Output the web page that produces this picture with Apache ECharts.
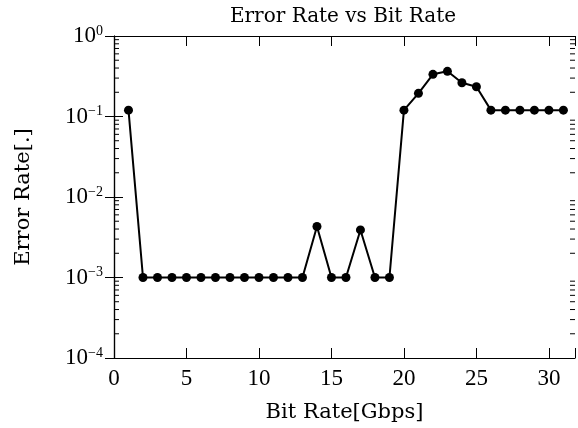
<!DOCTYPE html>
<html><head><meta charset="utf-8">
<script src="https://cdn.jsdelivr.net/npm/echarts@6/dist/echarts.min.js"></script>
<style>html,body{margin:0;padding:0;background:#fff}#c{width:578px;height:428px}</style>
</head><body><div id="c"></div>
<script>
const bitRates = [1,2,3,4,5,6,7,8,9,10,11,12,13,14,15,16,17,18,19,20,21,22,23,24,25,26,27,28,29,30,31];
const errorRates = [0.12,0.001,0.001,0.001,0.001,0.001,0.001,0.001,0.001,0.001,0.001,0.001,0.001,0.0043,0.001,0.001,0.0039,0.001,0.001,0.12,0.194,0.334,0.364,0.263,0.234,0.12,0.12,0.12,0.12,0.12,0.12];
const xMin = 0, xMax = 31.8, xStep = 5;
const yMin = 1e-4, yMax = 1;
const minorTickValues = [];
[-4,-3,-2,-1].forEach(function(k){ for (let m = 2; m <= 9; m++) minorTickValues.push(m * Math.pow(10, k)); });

const TFONT = 'Liberation Serif';
const NFONT = 'DejaVu Serif';
const chart = echarts.init(document.getElementById('c'), null, {renderer: 'canvas'});
const axisLineStyle = {color: '#000', width: 1.2};
chart.setOption({
  animation: false,
  title: {text: 'Error Rate vs Bit Rate', left: 338, textAlign: 'center', top: 2,
    textStyle: {fontFamily: NFONT, fontWeight: 'normal', fontSize: 20, color: '#000'}},
  grid: {left: 114, right: 3, top: 36, bottom: 70, containLabel: false},
  xAxis: [{
    type: 'value', min: xMin, max: xMax, interval: xStep,
    name: 'Bit Rate[Gbps]', nameLocation: 'middle', nameGap: 44,
    nameTextStyle: {fontFamily: NFONT, fontSize: 21, color: '#000'},
    axisLine: {show: true, lineStyle: axisLineStyle},
    axisTick: {show: true, inside: true, length: 10, lineStyle: {color: '#000', width: 1}},
    axisLabel: {fontFamily: TFONT, fontSize: 23, color: '#000', margin: 9,
      formatter: function(v){ return (v % xStep === 0) ? String(v) : ''; }},
    splitLine: {show: false}
  },{
    type: 'value', position: 'top', min: xMin, max: xMax, interval: xStep,
    axisLine: {show: true, lineStyle: axisLineStyle},
    axisTick: {show: true, inside: true, length: 10, lineStyle: {color: '#000', width: 1}},
    axisLabel: {show: false}, splitLine: {show: false}
  }],
  yAxis: [{
    type: 'log', logBase: 10, min: yMin, max: yMax,
    name: 'Error Rate[.]', nameLocation: 'middle', nameGap: 80, nameRotate: 90,
    nameTextStyle: {fontFamily: NFONT, fontSize: 21, color: '#000'},
    axisLine: {show: true, lineStyle: axisLineStyle},
    axisTick: {show: true, inside: true, length: 9, lineStyle: {color: '#000', width: 1}},
    axisLabel: {margin: 11, fontFamily: TFONT, color: '#000',
      formatter: function(v){ const e = Math.round(Math.log10(v)); return '{b|10}{s|' + (e < 0 ? '\u2212' + (-e) : e) + '}'; },
      rich: {b: {fontFamily: TFONT, fontSize: 23, lineHeight: 24, color: '#000'},
             s: {fontFamily: TFONT, fontSize: 14, lineHeight: 14, verticalAlign: 'top', color: '#000'}}},
    splitLine: {show: false}
  },{
    type: 'log', logBase: 10, min: yMin, max: yMax, position: 'right',
    axisLine: {show: true, lineStyle: axisLineStyle},
    axisTick: {show: true, inside: true, length: 9, lineStyle: {color: '#000', width: 1}},
    axisLabel: {show: false}, splitLine: {show: false}
  }],
  series: [{
    type: 'line', data: bitRates.map(function(x,i){ return [x, errorRates[i]]; }),
    symbol: 'circle', symbolSize: 9, itemStyle: {color: '#000'},
    lineStyle: {color: '#000', width: 2}, z: 5
  },{
    type: 'custom', clip: false, silent: true,
    data: minorTickValues.map(function(v){ return [xMin, v]; }),
    renderItem: function(params, api){
      const v = api.value(1);
      const l = api.coord([xMin, v]);
      const r = api.coord([xMax, v]);
      const st = {stroke: '#000', lineWidth: 1};
      return {type: 'group', children: [
        {type: 'line', shape: {x1: l[0], y1: l[1], x2: l[0] + 5, y2: l[1]}, style: st},
        {type: 'line', shape: {x1: r[0], y1: r[1], x2: r[0] - 5, y2: r[1]}, style: st}
      ]};
    }
  }]
});
</script></body></html>
